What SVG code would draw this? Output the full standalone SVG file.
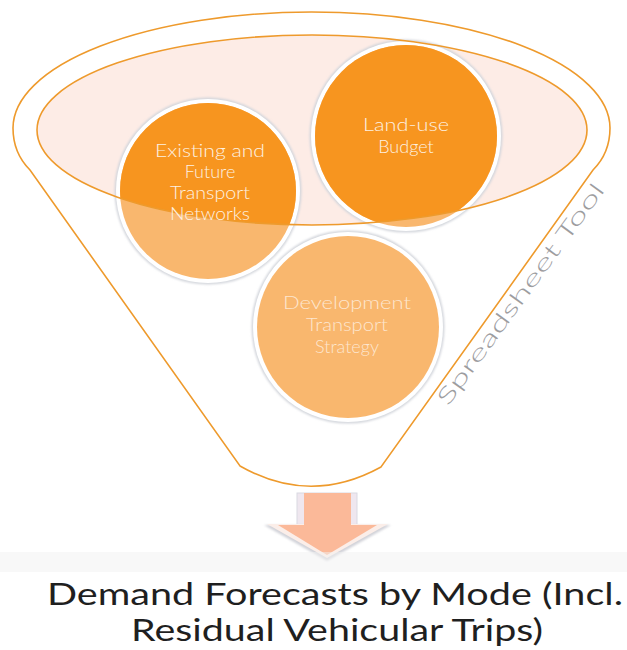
<svg xmlns="http://www.w3.org/2000/svg" width="627" height="650" viewBox="0 0 627 650">
  <defs>
    <style>
      .outline { fill: none; stroke: #ee9a2c; stroke-width: 1.6; }
      .ring { fill: #ffffff; }
      .halo { fill: #d3d6dc; }
      .light { fill: #f9b76e; }
      .dark { fill: #f7951f; }
      .ctext { font-family: "Lato", "Open Sans", "Liberation Sans", sans-serif; font-size: 18px; font-weight: 300; fill: #fdf1e2; text-anchor: middle; }
      .dtext { fill: #fde6cf; }
      .side { font-family: "Lato", "Open Sans", "Liberation Sans", sans-serif; font-size: 22px; font-weight: 300; fill: #9d9d9f; }
      .out { font-family: "Lato", "Open Sans", "Liberation Sans", sans-serif; font-size: 30px; fill: #1f1f1f; text-anchor: middle; }
    </style>
    <clipPath id="bowl">
      <ellipse cx="312" cy="130" rx="275" ry="95"/>
    </clipPath>
    <filter id="soft" x="-10%" y="-10%" width="120%" height="120%">
      <feGaussianBlur stdDeviation="1.2"/>
    </filter>
  </defs>

  <rect width="627" height="650" fill="#ffffff"/>

  <!-- funnel body: top rim arc, tapering sides and rounded spout -->
  <g id="funnel">
    <path d="M13,128 A298.5,116 0 0 1 610,128 C610,145 603,160 593,170 L381,467 Q310,506 240,466 L30,170 C20,160 13,145 13,128 Z" fill="#ffffff" stroke="#ee9a2c" stroke-width="1.6"/>
    <ellipse cx="312" cy="130" rx="275" ry="95" fill="#fdece6"/>
  </g>

  <!-- input circles -->
  <g id="node-networks">
    <circle cx="208" cy="191" r="93.5" class="halo" filter="url(#soft)"/>
    <circle cx="208" cy="191" r="92" class="ring"/>
    <circle cx="208" cy="191" r="88" class="light"/>
    <circle cx="208" cy="191" r="88" class="dark" clip-path="url(#bowl)"/>
  </g>
  <g id="node-landuse">
    <circle cx="406" cy="136" r="96.5" class="halo" filter="url(#soft)"/>
    <circle cx="406" cy="136" r="95" class="ring"/>
    <circle cx="406" cy="136" r="91" class="light"/>
    <circle cx="406" cy="136" r="91" class="dark" clip-path="url(#bowl)"/>
  </g>
  <g id="node-strategy">
    <circle cx="348" cy="327" r="96.5" class="halo" filter="url(#soft)"/>
    <circle cx="348" cy="327" r="95" class="ring"/>
    <circle cx="348" cy="327" r="91" class="light"/>
  </g>

  <!-- rim line drawn over the circles -->
  <g id="rim">
    <ellipse cx="312" cy="130" rx="275" ry="95" class="outline"/>
  </g>

  <!-- circle labels -->
  <g id="labels">
    <text class="ctext" x="210" y="157" textLength="110" lengthAdjust="spacingAndGlyphs">Existing and</text>
    <text class="ctext" x="210" y="178">Future</text>
    <text class="ctext" x="210" y="199" textLength="80" lengthAdjust="spacingAndGlyphs">Transport</text>
    <text class="ctext" x="210" y="220" textLength="80" lengthAdjust="spacingAndGlyphs">Networks</text>
    <text class="ctext" x="406" y="131" textLength="86" lengthAdjust="spacingAndGlyphs">Land-use</text>
    <text class="ctext" x="406" y="153">Budget</text>
    <text class="ctext dtext" x="347" y="309" textLength="128" lengthAdjust="spacingAndGlyphs">Development</text>
    <text class="ctext dtext" x="347" y="331" textLength="82" lengthAdjust="spacingAndGlyphs">Transport</text>
    <text class="ctext dtext" x="347" y="353">Strategy</text>
  </g>

  <text class="side" x="448" y="407" textLength="268" lengthAdjust="spacingAndGlyphs" transform="rotate(-54 448 407)">Spreadsheet Tool</text>

  <!-- output arrow -->
  <g id="connectors">
    <rect x="297" y="493" width="60" height="33" fill="#efe7ef" stroke="#d9d9e2" stroke-width="1"/>
    <polygon points="264,525 391,525 327,561" fill="#d2d3d9" filter="url(#soft)"/>
    <polygon points="267,524 388,524 327,558" fill="#fbeee9"/>
    <rect x="304" y="493" width="47" height="33" fill="#fbb999"/>
    <polygon points="278,525 377,525 327,555" fill="#fbb999"/>
  </g>

  <!-- faint strip under the arrow -->
  <rect x="0" y="552" width="627" height="20" fill="#f2f2f2" opacity="0.5"/>

  <g id="output">
    <text class="out" x="335" y="605" textLength="576" lengthAdjust="spacingAndGlyphs">Demand Forecasts by Mode (Incl.</text>
    <text class="out" x="337" y="641" textLength="412" lengthAdjust="spacingAndGlyphs">Residual Vehicular Trips)</text>
  </g>
</svg>
